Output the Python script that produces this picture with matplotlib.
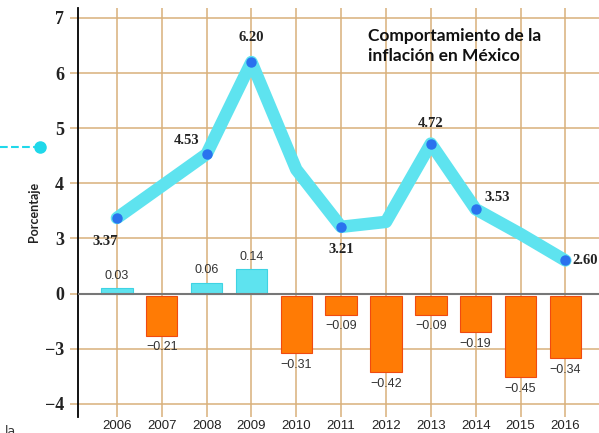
import matplotlib
matplotlib.use('Agg')
import matplotlib.pyplot as plt
from matplotlib.lines import Line2D

years = [2006, 2007, 2008, 2009, 2010, 2011, 2012, 2013, 2014, 2015, 2016]
# annual inflation (%); only some points carry a label
inflation = [3.37, 3.95, 4.53, 6.20, 4.25, 3.21, 3.30, 4.72, 3.53, 3.08, 2.60]
labelled = [True, False, True, True, False, True, False, True, True, False, True]
# year on year change of the rate
change = [0.03, -0.21, 0.06, 0.14, -0.31, -0.09, -0.42, -0.09, -0.19, -0.45, -0.34]

tick_values = [7, 6, 5, 4, 3, 0, -3, -4]
tick_pos = [5, 4, 3, 2, 1, 0, -1, -2]

# the axis is split: upper band for the rate, lower band for the change
def line_pos(v):
    return v - 2

def bar_pos(v):
    return v * 3.16

grid_col = '#d8b07a'
cyan = '#5ee3ef'
orange = '#ff7b05'

fig = plt.figure(figsize=(5.99, 4.33), dpi=100)
ax = fig.add_axes([0.130, 0.037, 0.870, 0.9445])
ax.set_xlim(2005.13, 2016.75)
ax.set_ylim(-2.24, 5.18)

for y in tick_pos:
    if y != 0:
        ax.axhline(y, color=grid_col, lw=1.1, zorder=0)
for x in years:
    ax.axvline(x, color=grid_col, lw=1.1, zorder=0)

for yr, c in zip(years, change):
    h = bar_pos(c)
    if c >= 0:
        ax.bar(yr, h, width=0.7, bottom=0, color=cyan, edgecolor='#3fd3e3', lw=0.8, zorder=2)
        ax.text(yr, h + 0.12, '%.2f' % c, ha='center', va='bottom', fontsize=9,
                color='#333333', family='Liberation Sans')
    else:
        ax.bar(yr, h - 0.05, width=0.7, bottom=-0.05, color=orange, edgecolor='#f04a10', lw=0.8, zorder=2)
        ax.text(yr, h - 0.2, '\u2212%.2f' % abs(c), ha='center', va='top', fontsize=9,
                color='#333333', family='Liberation Sans')

ax.axhline(0, color='#777777', lw=1.5, zorder=3)

ys = [line_pos(v) for v in inflation]
ax.plot(years, ys, color=cyan, lw=9, solid_joinstyle='round', solid_capstyle='round', zorder=4)
pts = [(x, y) for x, y, k in zip(years, ys, labelled) if k]
ax.plot([p[0] for p in pts], [p[1] for p in pts], 'o', color='#2a72ee', ms=6.5, zorder=5)

offsets = {2006: (-0.25, -0.42, 'center'), 2008: (-0.45, 0.25, 'center'),
           2009: (0, 0.45, 'center'), 2011: (0, -0.42, 'center'),
           2013: (0, 0.36, 'center'), 2014: (0.2, 0.22, 'left'),
           2016: (0.15, 0, 'left')}
for yr, v, y, k in zip(years, inflation, ys, labelled):
    if k:
        dx, dy, ha = offsets[yr]
        ax.text(yr + dx, y + dy, '%.2f' % v, ha=ha, va='center', fontsize=10.5,
                fontweight='bold', color='#222222', family='Liberation Serif', zorder=6)

ax.set_yticks(tick_pos)
ax.set_yticklabels([str(t).replace('-', '\u2212') for t in tick_values],
                   fontsize=13, fontweight='bold', color='#222222', family='Liberation Serif')
ax.tick_params(axis='y', length=6, color=grid_col, width=1.1, pad=4)
ax.set_xticks(years)
ax.set_xticklabels([str(y) for y in years], fontsize=9.5, color='#222222', family='Liberation Sans')
ax.tick_params(axis='x', length=0, pad=2)

for s in ['top', 'right', 'bottom']:
    ax.spines[s].set_visible(False)
ax.spines['left'].set_color('black')
ax.spines['left'].set_linewidth(1.3)

ax.text(0.556, 0.95, 'Comportamiento de la\ninflación en México', transform=ax.transAxes,
        fontsize=12.5, fontweight='bold', color='#111111', va='top', ha='left',
        linespacing=1.3, family='Lato')

fig.text(0.057, 0.51, 'Porcentaje', rotation=90, fontsize=9, fontweight='bold',
         ha='center', va='center', color='#222222', family='Lato')

# legend key for the rate line
fig.add_artist(Line2D([0.0, 0.062], [0.661, 0.661], transform=fig.transFigure,
                      color='#1fd8ea', lw=1.5, ls='--'))
fig.add_artist(Line2D([0.066], [0.661], transform=fig.transFigure, marker='o',
                      color='#1fd8ea', ms=8))
fig.text(0.008, -0.012, 'la', fontsize=9, color='#333333', ha='left', va='bottom')

fig.savefig('out.png', dpi=100)
